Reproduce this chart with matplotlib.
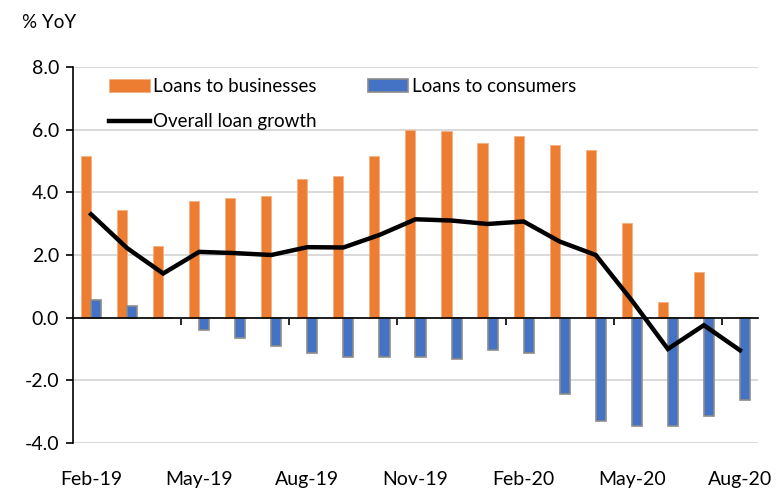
import numpy as np
import matplotlib.pyplot as plt
from matplotlib.transforms import blended_transform_factory

# data (% YoY)
months = ['Feb-19', 'Mar-19', 'Apr-19', 'May-19', 'Jun-19', 'Jul-19', 'Aug-19',
          'Sep-19', 'Oct-19', 'Nov-19', 'Dec-19', 'Jan-20', 'Feb-20', 'Mar-20',
          'Apr-20', 'May-20', 'Jun-20', 'Jul-20', 'Aug-20']
businesses = [5.15, 3.43, 2.29, 3.72, 3.81, 3.87, 4.44, 4.52, 5.17, 5.98,
              5.95, 5.58, 5.79, 5.52, 5.35, 3.02, 0.51, 1.47, -0.02]
consumers = [0.56, 0.36, -0.02, -0.40, -0.66, -0.91, -1.14, -1.26, -1.26, -1.26,
             -1.33, -1.02, -1.14, -2.44, -3.29, -3.47, -3.45, -3.14, -2.62]
overall = [3.30, 2.22, 1.41, 2.10, 2.06, 2.00, 2.25, 2.24, 2.64, 3.14,
           3.10, 2.99, 3.07, 2.43, 2.00, 0.55, -1.00, -0.24, -1.04]
label_months = ['Feb-19', 'May-19', 'Aug-19', 'Nov-19', 'Feb-20', 'May-20', 'Aug-20']

plt.rcParams['font.family'] = ['Lato', 'DejaVu Sans']

fig = plt.figure(figsize=(7.81, 4.92), dpi=100)
ax = fig.add_axes([0.0935, 0.0996, 0.877, 0.7642])

x = np.arange(len(months))
w = 0.28
b1 = ax.bar(x - w / 2, businesses, w, color='#ED7D31', edgecolor='#F4B183',
            linewidth=0.6, label='Loans to businesses', zorder=2)
b2 = ax.bar(x + w / 2, consumers, w, color='#4472C4', edgecolor='#8C8C8C',
            linewidth=1.2, label='Loans to consumers', zorder=2)
ln, = ax.plot(x, overall, color='black', lw=3.2, label='Overall loan growth',
              solid_joinstyle='miter', zorder=3)

ax.set_xlim(-0.5, len(months) - 0.5)
ax.set_ylim(-4, 8)
ax.set_yticks(np.arange(-4, 8.1, 2))
ax.set_yticklabels([f'{v:.1f}' for v in np.arange(-4, 8.1, 2)], fontsize=14)
ax.yaxis.grid(True, color='#D9D9D9', lw=1.4, zorder=0)
ax.set_axisbelow(True)

for s in ['top', 'right']:
    ax.spines[s].set_visible(False)
ax.spines['left'].set_color('black')
ax.spines['left'].set_linewidth(1.2)
ax.spines['bottom'].set_position(('data', 0))
ax.spines['bottom'].set_linewidth(1.2)
ax.tick_params(axis='y', direction='out', length=5, width=1.2, pad=5)

# tick marks at quarter boundaries on the zero line
ax.set_xticks(np.arange(2.5, len(months) - 1, 3))
ax.set_xticklabels([])
ax.tick_params(axis='x', direction='out', length=5, width=1.2)

tr = blended_transform_factory(ax.transData, ax.transAxes)
for lab in label_months:
    ax.text(months.index(lab), -0.097, lab, transform=tr, ha='center',
            va='center', fontsize=14)

fig.text(0.028, 0.955, '% YoY', fontsize=13.5, va='center', ha='left')

ax.legend([b1, ln, b2], [b1.get_label(), ln.get_label(), b2.get_label()],
          ncol=2, loc='upper left', bbox_to_anchor=(0.042, 0.99), frameon=False,
          fontsize=13.5, handlelength=2.15, handletextpad=0.2, columnspacing=2.7,
          labelspacing=0.95, borderaxespad=0)

fig.savefig('out.png', dpi=100)
